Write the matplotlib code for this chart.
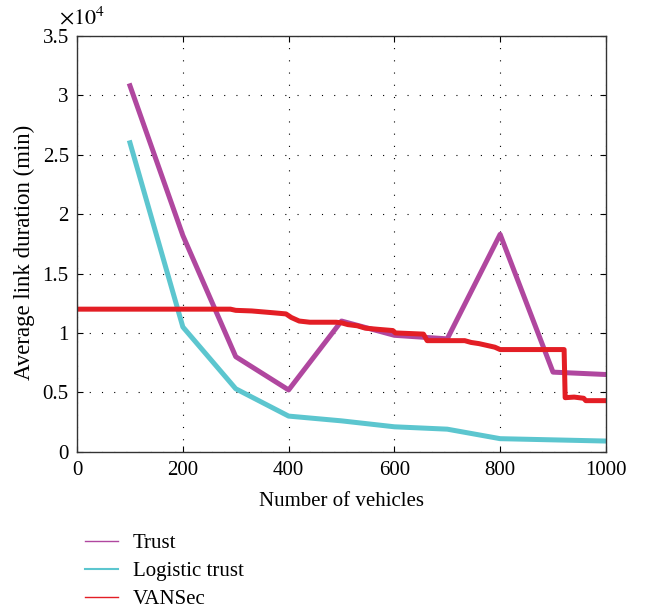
import matplotlib
matplotlib.use("Agg")
import matplotlib.pyplot as plt
from matplotlib.lines import Line2D

plt.rcParams['font.family'] = ['Liberation Serif', 'DejaVu Serif']
plt.rcParams['mathtext.fontset'] = 'stix'

vehicles = [100, 200, 300, 400, 500, 600, 700, 800, 900, 1000]
trust = [3.08, 1.82, 0.80, 0.52, 1.10, 0.98, 0.95, 1.83, 0.67, 0.65]
logistic = [2.60, 1.05, 0.53, 0.30, 0.26, 0.21, 0.19, 0.11, 0.10, 0.09]

vansec_x = [0, 290, 300, 330, 370, 395, 405, 420, 440, 490, 500, 512, 530, 545,
            570, 597, 602, 655, 662, 733, 745, 760, 775, 790, 800, 921, 923, 940, 958, 962, 1000]
vansec_y = [1.20, 1.20, 1.19, 1.185, 1.17, 1.16, 1.13, 1.10, 1.09, 1.09, 1.085, 1.07, 1.06, 1.04,
            1.03, 1.02, 1.00, 0.99, 0.935, 0.935, 0.92, 0.91, 0.895, 0.88, 0.86, 0.86, 0.455, 0.46, 0.45, 0.43, 0.43]

c_trust = '#b0479f'
c_log = '#5cc6cf'
c_van = '#e31e25'

fig = plt.figure(figsize=(6.48, 6.08), dpi=100)
ax = fig.add_axes([0.119, 0.257, 0.816, 0.684])

ax.plot(vehicles, trust, color=c_trust, lw=3.6)
ax.plot(vehicles, logistic, color=c_log, lw=3.6)
ax.plot(vansec_x, vansec_y, color=c_van, lw=3.6)

ax.set_xlim(0, 1000)
ax.set_ylim(0, 3.5)
ax.set_xticks([0, 200, 400, 600, 800, 1000])
ax.set_yticks([0, 0.5, 1, 1.5, 2, 2.5, 3, 3.5])
ax.set_yticklabels(['0', '0.5', '1', '1.5', '2', '2.5', '3', '3.5'])
ax.tick_params(direction='in', top=True, right=True, labelsize=15, length=4, width=0.8)
ax.tick_params(axis='x', pad=7)
ax.tick_params(axis='y', pad=6)
ax.grid(True, linestyle=(0, (1, 10)), color='black', linewidth=0.8)
for s in ax.spines.values():
    s.set_linewidth(1.0)
    s.set_color('#333333')

ax.set_xlabel('Number of vehicles', fontsize=15, labelpad=8)
ax.set_ylabel('Average link duration (min)', fontsize=16.5)
ax.yaxis.set_label_coords(-0.079, 0.48)
ax.text(-0.035, 1.015, r'$\times10^{4}$', transform=ax.transAxes, fontsize=16,
        ha='left', va='bottom')

handles = [Line2D([0], [0], color=c_trust, lw=1.0),
           Line2D([0], [0], color=c_log, lw=1.5),
           Line2D([0], [0], color=c_van, lw=1.0)]
fig.legend(handles, ['Trust', 'Logistic trust', 'VANSec'], loc='upper left',
           bbox_to_anchor=(0.102, 0.153), frameon=False, fontsize=15,
           handlelength=1.6, handletextpad=0.7, labelspacing=0.4)

fig.savefig('out.png', dpi=100)
